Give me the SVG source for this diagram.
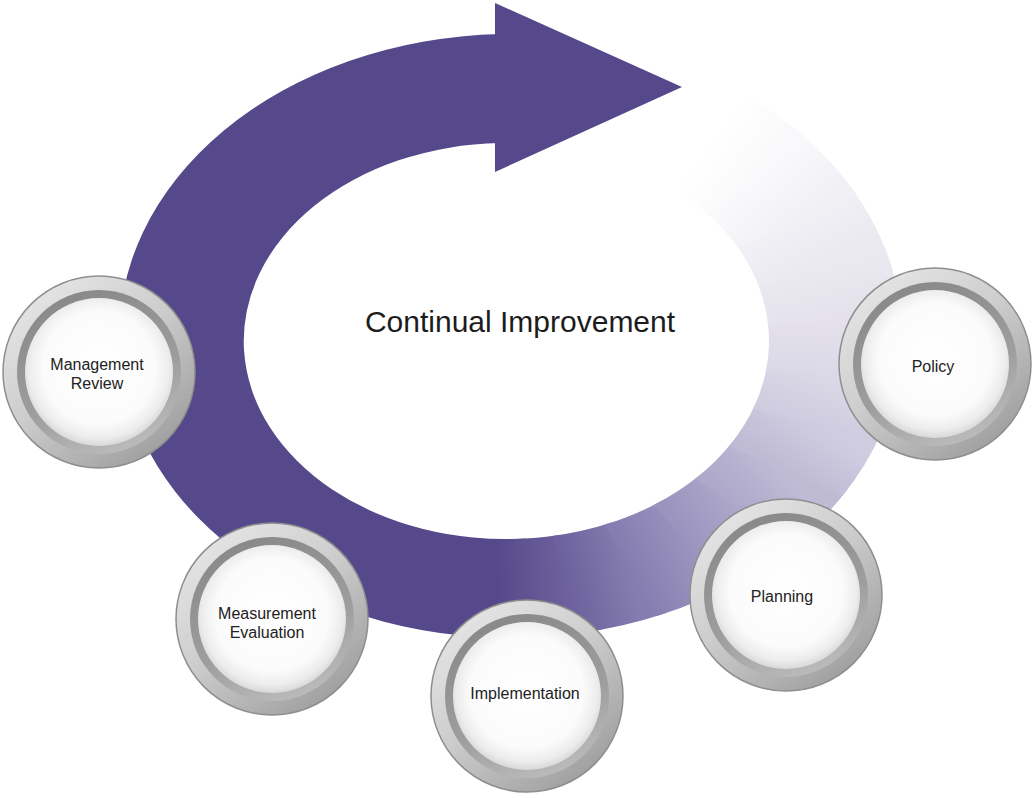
<svg xmlns="http://www.w3.org/2000/svg" width="1034" height="798" viewBox="0 0 1034 798">
<style>
.purple{fill:#56498b}
.lbl{font-family:"Liberation Sans",Arial,sans-serif;font-size:16px;fill:#222;text-anchor:middle}
.title{font-family:"Liberation Sans",Arial,sans-serif;font-size:30px;fill:#1c1c1c;text-anchor:middle}
</style>
<defs>
<linearGradient id="g0" gradientUnits="userSpaceOnUse" x1="497.1" y1="588.4" x2="565.3" y2="584.7"><stop offset="0" stop-color="#56498b"/><stop offset="1" stop-color="#6c619c"/></linearGradient>
<linearGradient id="g1" gradientUnits="userSpaceOnUse" x1="565.3" y1="584.7" x2="631.0" y2="570.3"><stop offset="0" stop-color="#6c619c"/><stop offset="1" stop-color="#857db0"/></linearGradient>
<linearGradient id="g2" gradientUnits="userSpaceOnUse" x1="631.0" y1="570.3" x2="691.4" y2="545.8"><stop offset="0" stop-color="#857db0"/><stop offset="1" stop-color="#9b94bf"/></linearGradient>
<linearGradient id="g3" gradientUnits="userSpaceOnUse" x1="691.4" y1="545.8" x2="743.8" y2="512.2"><stop offset="0" stop-color="#9b94bf"/><stop offset="1" stop-color="#aea8ca"/></linearGradient>
<linearGradient id="g4" gradientUnits="userSpaceOnUse" x1="743.8" y1="512.2" x2="785.8" y2="471.0"><stop offset="0" stop-color="#aea8ca"/><stop offset="1" stop-color="#c0bbd5"/></linearGradient>
<linearGradient id="g5" gradientUnits="userSpaceOnUse" x1="785.8" y1="471.0" x2="815.8" y2="424.0"><stop offset="0" stop-color="#c0bbd5"/><stop offset="1" stop-color="#d0cce0"/></linearGradient>
<linearGradient id="g6" gradientUnits="userSpaceOnUse" x1="815.8" y1="424.0" x2="832.4" y2="373.3"><stop offset="0" stop-color="#d0cce0"/><stop offset="1" stop-color="#dcd9e7"/></linearGradient>
<linearGradient id="g7" gradientUnits="userSpaceOnUse" x1="832.4" y1="373.3" x2="834.8" y2="321.1"><stop offset="0" stop-color="#dcd9e7"/><stop offset="1" stop-color="#e4e1ec"/></linearGradient>
<linearGradient id="g8" gradientUnits="userSpaceOnUse" x1="834.8" y1="321.1" x2="822.9" y2="269.6"><stop offset="0" stop-color="#e4e1ec"/><stop offset="1" stop-color="#eae8f0"/></linearGradient>
<linearGradient id="g9" gradientUnits="userSpaceOnUse" x1="822.9" y1="269.6" x2="797.2" y2="221.1"><stop offset="0" stop-color="#eae8f0"/><stop offset="1" stop-color="#f1f0f5"/></linearGradient>
<linearGradient id="g10" gradientUnits="userSpaceOnUse" x1="797.2" y1="221.1" x2="759.0" y2="177.8"><stop offset="0" stop-color="#f1f0f5"/><stop offset="1" stop-color="#f9f9fb"/></linearGradient>
<linearGradient id="g11" gradientUnits="userSpaceOnUse" x1="759.0" y1="177.8" x2="709.9" y2="141.5"><stop offset="0" stop-color="#f9f9fb"/><stop offset="1" stop-color="#ffffff"/></linearGradient>

<linearGradient id="outerG" x1="0.15" y1="0.05" x2="0.85" y2="0.95">
<stop offset="0" stop-color="#e6e6e6"/><stop offset="0.45" stop-color="#cdcdcd"/><stop offset="1" stop-color="#9c9c9c"/>
</linearGradient>
<linearGradient id="darkG" x1="0.3" y1="0" x2="0.7" y2="1">
<stop offset="0" stop-color="#888888"/><stop offset="0.6" stop-color="#9e9e9e"/><stop offset="1" stop-color="#bdbdbd"/>
</linearGradient>
<radialGradient id="faceG" cx="0.5" cy="0.47" r="0.53">
<stop offset="0" stop-color="#ffffff"/><stop offset="0.72" stop-color="#fbfbfb"/><stop offset="0.9" stop-color="#ececec"/><stop offset="1" stop-color="#d8d8d8"/>
</radialGradient>
<g id="bezel">
<circle r="96" fill="url(#outerG)" stroke="#8e8e8e" stroke-width="1.5"/>
<circle r="82" fill="url(#darkG)"/>
<circle r="74" fill="url(#faceG)"/>
</g>
</defs>

<rect width="1034" height="798" fill="#ffffff"/>

<g id="connectors">
<path class="purple" d="M 500 34.1 A 392 302 0 1 0 537.4 637.3 L 525.3 538.5 A 262 198 0 1 1 500 143.1 Z"/>
<path fill="url(#g0)" d="M 496.3 637.8 A 392 302 0 0 0 588.2 631.9 L 559.2 535.0 A 262 198 0 0 1 497.9 538.9 Z"/>
<path fill="url(#g1)" d="M 578.1 633.4 A 392 302 0 0 0 666.3 613.0 L 611.5 522.6 A 262 198 0 0 1 552.5 536.0 Z"/>
<path fill="url(#g2)" d="M 656.8 616.0 A 392 302 0 0 0 737.6 581.9 L 659.1 502.2 A 262 198 0 0 1 605.1 524.6 Z"/>
<path fill="url(#g3)" d="M 729.2 586.4 A 392 302 0 0 0 799.0 540.0 L 700.2 474.8 A 262 198 0 0 1 653.5 505.1 Z"/>
<path fill="url(#g4)" d="M 792.0 545.8 A 392 302 0 0 0 847.7 489.3 L 732.7 441.5 A 262 198 0 0 1 695.5 478.6 Z"/>
<path fill="url(#g5)" d="M 842.4 496.0 A 392 302 0 0 0 881.7 431.8 L 755.5 403.8 A 262 198 0 0 1 729.2 445.9 Z"/>
<path fill="url(#g6)" d="M 878.4 439.3 A 392 302 0 0 0 899.5 370.2 L 767.3 363.4 A 262 198 0 0 1 753.2 408.7 Z"/>
<path fill="url(#g7)" d="M 898.2 378.0 A 392 302 0 0 0 900.2 307.1 L 767.8 322.0 A 262 198 0 0 1 766.5 368.6 Z"/>
<path fill="url(#g8)" d="M 901.1 314.9 A 392 302 0 0 0 883.9 245.2 L 756.9 281.5 A 262 198 0 0 1 768.4 327.2 Z"/>
<path fill="url(#g9)" d="M 886.8 252.8 A 392 302 0 0 0 851.2 187.3 L 735.0 243.5 A 262 198 0 0 1 758.9 286.4 Z"/>
<path fill="url(#g10)" d="M 856.1 194.2 A 392 302 0 0 0 803.6 135.9 L 703.2 209.8 A 262 198 0 0 1 738.3 248.0 Z"/>
<path fill="url(#g11)" d="M 810.3 141.9 A 392 302 0 0 0 751.4 98.0 L 668.3 185.0 A 262 198 0 0 1 707.7 213.7 Z"/>
<polygon class="purple" points="495,3 682,87 495,172"/>
</g>

<g id="title">
<text class="title" x="520" y="332">Continual Improvement</text>
</g>

<g id="node-management-review">
<use href="#bezel" transform="translate(99,372)"/>
<text class="lbl" x="97" y="370">Management</text>
<text class="lbl" x="97" y="389">Review</text>
</g>

<g id="node-policy">
<use href="#bezel" transform="translate(935,364)"/>
<text class="lbl" x="933" y="372">Policy</text>
</g>

<g id="node-planning">
<use href="#bezel" transform="translate(786,595)"/>
<text class="lbl" x="782" y="602">Planning</text>
</g>

<g id="node-implementation">
<use href="#bezel" transform="translate(527,696)"/>
<text class="lbl" x="525" y="699">Implementation</text>
</g>

<g id="node-measurement-evaluation">
<use href="#bezel" transform="translate(272,619)"/>
<text class="lbl" x="267" y="619">Measurement</text>
<text class="lbl" x="267" y="638">Evaluation</text>
</g>
</svg>
